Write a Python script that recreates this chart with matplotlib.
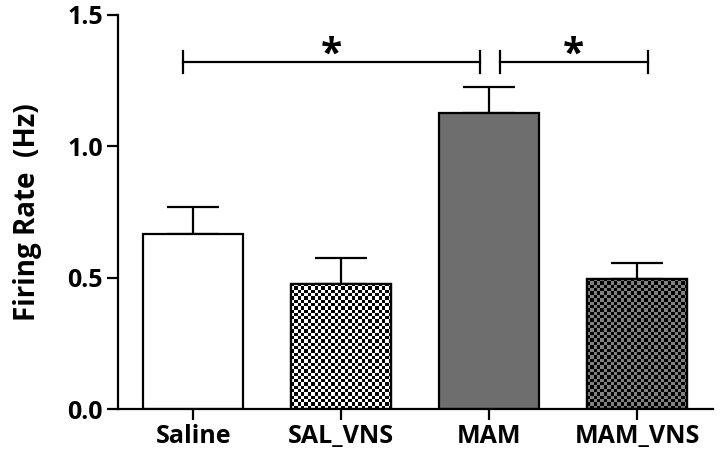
import numpy as np
import matplotlib
matplotlib.use('Agg')
import matplotlib.pyplot as plt

# Data
groups = ['Saline', 'SAL_VNS', 'MAM', 'MAM_VNS']
means = [0.665, 0.477, 1.126, 0.495]
sems = [0.103, 0.097, 0.100, 0.062]

# significance brackets: (start, end) in category units, height, label
sig_spans = [(-0.07, 1.94), (2.07, 3.07)]
sig_height = 1.32
sig_labels = ['*', '*']

plt.rcParams['font.family'] = ['Open Sans', 'DejaVu Sans']
plt.rcParams['font.weight'] = 'bold'

fig = plt.figure(figsize=(7.2, 4.68), dpi=100)
ax = fig.add_axes([0.164, 0.126, 0.826, 0.842])

x = np.arange(len(groups))
face = ['white', 'white', '#6e6e6e', '#7a7a7a']
bars = ax.bar(x, means, width=0.676, color=face, edgecolor='black', linewidth=1.6, zorder=2)
ax.errorbar(x, means, yerr=[np.zeros(len(sems)), sems], fmt='none', ecolor='black',
            elinewidth=1.6, capsize=19, capthick=1.6, zorder=1)

ax.set_xlim(-0.507, 3.51)
ax.set_ylim(0, 1.5)

# checkerboard fill for the VNS bars
checker = {1: ('white', 'black'), 3: ('#808080', 'black')}
fig.canvas.draw()
for i, (c1, c2) in checker.items():
    b = bars[i]
    x0, y0 = b.get_x(), b.get_y()
    x1, y1 = x0 + b.get_width(), y0 + b.get_height()
    p0 = ax.transData.transform((x0, y0))
    p1 = ax.transData.transform((x1, y1))
    nx = max(1, int(round(abs(p1[0] - p0[0]) / 3.3)))
    ny = max(1, int(round(abs(p1[1] - p0[1]) / 3.3)))
    grid = (np.add.outer(np.arange(ny), np.arange(nx)) % 2).astype(float)
    cmap = matplotlib.colors.ListedColormap([c1, c2])
    im = ax.imshow(grid, extent=(x0, x1, y0, y1), origin='lower', cmap=cmap,
                   interpolation='nearest', aspect='auto', zorder=2.5)
    im.set_clip_path(b)
    outline = plt.Rectangle((x0, y0), b.get_width(), b.get_height(), fill=False,
                            edgecolor='black', linewidth=1.6, zorder=3)
    ax.add_patch(outline)

# significance brackets
tick_h = 0.042
for (s, e), lab in zip(sig_spans, sig_labels):
    ax.plot([s, e], [sig_height, sig_height], color='black', lw=1.6, clip_on=False)
    ax.plot([s, s], [sig_height - tick_h, sig_height + tick_h], color='black', lw=1.6)
    ax.plot([e, e], [sig_height - tick_h, sig_height + tick_h], color='black', lw=1.6)
    ax.text((s + e) / 2, sig_height - 0.014, lab, ha='center', va='baseline',
            fontsize=28, fontweight='bold')

ax.spines['top'].set_visible(False)
ax.spines['right'].set_visible(False)
ax.spines['left'].set_linewidth(1.6)
ax.spines['bottom'].set_linewidth(1.6)

ax.set_xticks(x)
ax.set_xticklabels(groups, fontsize=18, fontweight='bold')
ax.set_yticks([0, 0.5, 1.0, 1.5])
ax.set_yticklabels(['0.0', '0.5', '1.0', '1.5'], fontsize=18, fontweight='bold')
ax.tick_params(length=8, width=1.6, pad=3)
ax.set_ylabel('Firing Rate  (Hz)', fontsize=20, fontweight='bold', labelpad=18)

fig.savefig('out.png', dpi=100)
